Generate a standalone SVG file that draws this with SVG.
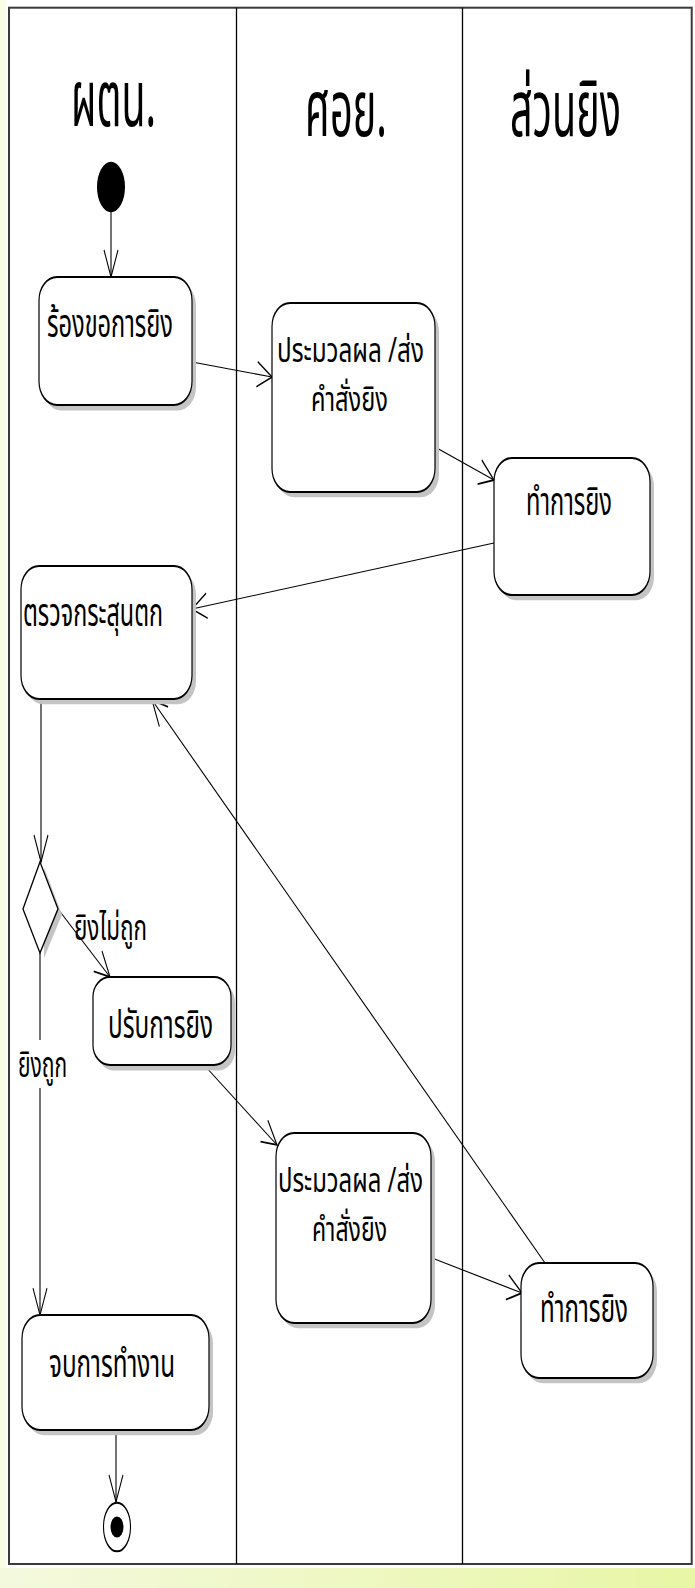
<svg xmlns="http://www.w3.org/2000/svg" width="695" height="1588" viewBox="0 0 695 1588">
<style>
.node{fill:#fff;stroke:#000;stroke-width:1.2}
.shadow{fill:#c4c4c4;stroke:none}
.t{font-family:"Noto Sans Thai","Noto Sans","DejaVu Sans",sans-serif;font-size:22px;fill:#000}
.t2{font-family:"Noto Sans Thai","Noto Sans","DejaVu Sans",sans-serif;font-size:19px;fill:#000}
.h{font-family:"Noto Sans Thai","Noto Sans","DejaVu Sans",sans-serif;font-size:44px;fill:#000}
.lbl{font-family:"Noto Sans Thai","Noto Sans","DejaVu Sans",sans-serif;font-size:20px;fill:#000}
.con{fill:none;stroke:#000;stroke-width:1.1;vector-effect:non-scaling-stroke}
.lane{stroke:#000;stroke-width:1.3}
</style>
<defs>
<linearGradient id="band" x1="0" y1="0" x2="1" y2="0">
<stop offset="0" stop-color="#f4f9de"/>
<stop offset="1" stop-color="#e8f6a6"/>
</linearGradient>
<marker id="arr" markerUnits="userSpaceOnUse" markerWidth="20" markerHeight="20" refX="16" refY="8" orient="auto" viewBox="0 0 20 16">
<path d="M1,1 L16,8 L1,15" fill="none" stroke="#000" stroke-width="1"/>
</marker>
</defs>
<rect x="0" y="0" width="695" height="1588" fill="#fff"/>
<rect x="0" y="0" width="6" height="1568" fill="#f8fde4"/>
<rect x="0" y="1568" width="695" height="20" fill="url(#band)"/>
<rect x="9" y="7.7" width="682.7" height="1556.3" fill="#fff" stroke="#3a3a3a" stroke-width="2"/>
<line class="lane" x1="236.5" y1="7.7" x2="236.5" y2="1564"/>
<line class="lane" x1="462.5" y1="7.7" x2="462.5" y2="1564"/>
<g transform="scale(1,1.8)">
<g id="headers">
<text class="h" x="71" y="70" textLength="85" lengthAdjust="spacingAndGlyphs">ผตน.</text>
<text class="h" x="305" y="75.56" textLength="82" lengthAdjust="spacingAndGlyphs">ศอย.</text>
<text class="h" x="510" y="75.56" textLength="111" lengthAdjust="spacingAndGlyphs">ส่วนยิง</text>
</g>
<g id="connectors">
<line class="con" x1="111" y1="117.78" x2="111" y2="153.89" marker-end="url(#arr)"/>
<line class="con" x1="192" y1="201.11" x2="272" y2="209.44" marker-end="url(#arr)"/>
<line class="con" x1="435" y1="248.33" x2="494" y2="266.67" marker-end="url(#arr)"/>
<line class="con" x1="494" y1="301.67" x2="192" y2="338.33" marker-end="url(#arr)"/>
<line class="con" x1="41" y1="388.33" x2="41" y2="478.89" marker-end="url(#arr)"/>
<line class="con" x1="58" y1="505" x2="110" y2="542.78" marker-end="url(#arr)"/>
<line class="con" x1="40" y1="529.44" x2="40" y2="577.78"/>
<line class="con" x1="40" y1="604.44" x2="40" y2="730.56" marker-end="url(#arr)"/>
<line class="con" x1="205" y1="592.22" x2="277" y2="636.11" marker-end="url(#arr)"/>
<line class="con" x1="432" y1="698.89" x2="522" y2="718.33" marker-end="url(#arr)"/>
<line class="con" x1="545" y1="701.67" x2="152" y2="388.89" marker-end="url(#arr)"/>
<line class="con" x1="116" y1="794.44" x2="116" y2="834.44" marker-end="url(#arr)"/>
</g>
<g id="start">
<ellipse cx="111" cy="103.89" rx="14" ry="14" fill="#000"/>
</g>
<g id="n1">
<rect class="shadow" x="43" y="156.9" width="153" height="71.11" rx="18" ry="13"/>
<rect class="node" x="39" y="153.89" width="153" height="71.11" rx="18" ry="13"/>
<text class="t" x="47" y="187.22" textLength="126" lengthAdjust="spacingAndGlyphs">ร้องขอการยิง</text>
</g>
<g id="n2">
<rect class="shadow" x="276" y="171.3" width="163" height="105" rx="18" ry="13"/>
<rect class="node" x="272" y="168.33" width="163" height="105" rx="18" ry="13"/>
<text class="t2" x="277" y="201" textLength="147" lengthAdjust="spacingAndGlyphs">ประมวลผล /ส่ง</text>
<text class="t2" x="311" y="228.5" textLength="77" lengthAdjust="spacingAndGlyphs">คำสั่งยิง</text>
</g>
<g id="n3">
<rect class="shadow" x="498" y="257.4" width="156" height="76.11" rx="18" ry="13"/>
<rect class="node" x="494" y="254.44" width="156" height="76.11" rx="18" ry="13"/>
<text class="t" x="526" y="286.11" textLength="86" lengthAdjust="spacingAndGlyphs">ทำการยิง</text>
</g>
<g id="n4">
<rect class="shadow" x="25" y="317.4" width="171" height="73.89" rx="18" ry="13"/>
<rect class="node" x="21" y="314.44" width="171" height="73.89" rx="18" ry="13"/>
<text class="t" x="23" y="347.78" textLength="140" lengthAdjust="spacingAndGlyphs">ตรวจกระสุนตก</text>
</g>
<g id="decision">
<path d="M44,482 L62,508 L44,532.4 Z" class="shadow"/>
<path d="M40,478.89 L58,505 L40,529.44 L23,505 Z" class="node"/>
</g>
<g id="lbl-miss">
<text class="lbl" x="74" y="522.22" textLength="73" lengthAdjust="spacingAndGlyphs">ยิงไม่ถูก</text>
</g>
<g id="lbl-hit">
<text class="lbl" x="18" y="598.33" textLength="49" lengthAdjust="spacingAndGlyphs">ยิงถูก</text>
</g>
<g id="n5">
<rect class="shadow" x="97" y="545.8" width="138" height="48.89" rx="17" ry="11"/>
<rect class="node" x="93" y="542.78" width="138" height="48.89" rx="17" ry="11"/>
<text class="t" x="108" y="576.67" textLength="105" lengthAdjust="spacingAndGlyphs">ปรับการยิง</text>
</g>
<g id="n6">
<rect class="shadow" x="280" y="632.4" width="155" height="105.56" rx="18" ry="13"/>
<rect class="node" x="276" y="629.44" width="155" height="105.56" rx="18" ry="13"/>
<text class="t2" x="278" y="662" textLength="145" lengthAdjust="spacingAndGlyphs">ประมวลผล /ส่ง</text>
<text class="t2" x="312" y="689.5" textLength="75" lengthAdjust="spacingAndGlyphs">คำสั่งยิง</text>
</g>
<g id="n7">
<rect class="shadow" x="525" y="704.6" width="132" height="63.89" rx="18" ry="13"/>
<rect class="node" x="521" y="701.67" width="132" height="63.89" rx="18" ry="13"/>
<text class="t" x="540" y="734.44" textLength="88" lengthAdjust="spacingAndGlyphs">ทำการยิง</text>
</g>
<g id="n8">
<rect class="shadow" x="26" y="733.5" width="187" height="63.89" rx="18" ry="13"/>
<rect class="node" x="22" y="730.56" width="187" height="63.89" rx="18" ry="13"/>
<text class="t" x="49" y="765" textLength="126" lengthAdjust="spacingAndGlyphs">จบการทำงาน</text>
</g>
<g id="end">
<ellipse cx="117" cy="848.33" rx="13.5" ry="13.5" fill="#fff" stroke="#000" stroke-width="1.1"/>
<ellipse cx="117" cy="848.33" rx="6.5" ry="5.8" fill="#000"/>
</g>
</g>
</svg>
